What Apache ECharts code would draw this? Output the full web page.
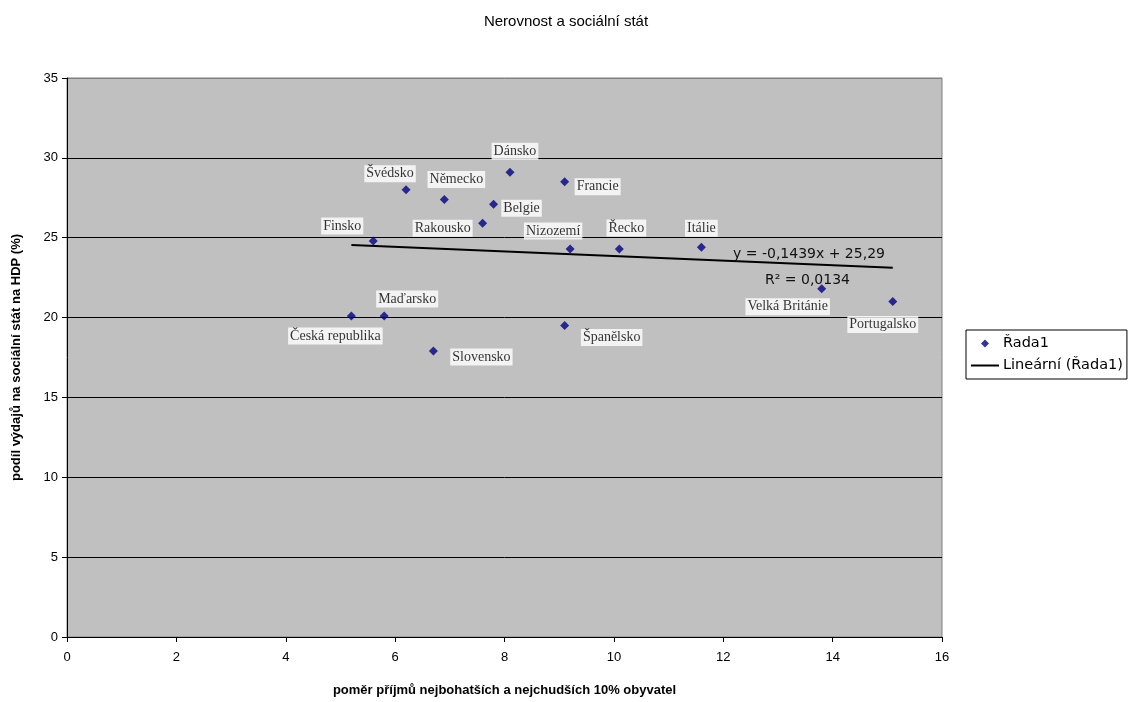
<!DOCTYPE html>
<html><head><meta charset="utf-8">
<script src="https://cdn.jsdelivr.net/npm/echarts@6/dist/echarts.min.js"></script>
<style>html,body{margin:0;padding:0;background:#fff}#c{width:1132px;height:702px}</style>
</head><body><div id="c"></div>
<script>
// ---- data ----
const countries = ['Česká republika','Maďarsko','Finsko','Švédsko','Německo','Dánsko','Belgie','Rakousko','Nizozemí','Francie','Slovensko','Španělsko','Řecko','Itálie','Velká Británie','Portugalsko'];
const incomeRatio = [5.2, 5.8, 5.6, 6.2, 6.9, 8.1, 7.8, 7.6, 9.2, 9.1, 6.7, 9.1, 10.1, 11.6, 13.8, 15.1];
const socialShare = [20.1, 20.1, 24.8, 28.0, 27.4, 29.1, 27.1, 25.9, 24.3, 28.5, 17.9, 19.5, 24.3, 24.4, 21.8, 21.0];
const xTicks = [0, 2, 4, 6, 8, 10, 12, 14, 16];
const yTicks = [0, 5, 10, 15, 20, 25, 30, 35];
const trendSlope = -0.1439;
const trendIntercept = 25.29;
const trendLabels = ['y = -0,1439x + 25,29', 'R² = 0,0134'];
const seriesName = 'Řada1';
const trendName = 'Lineární (Řada1)';
const chartTitle = 'Nerovnost a sociální stát';
const xName = 'poměr příjmů nejbohatších a nejchudších 10% obyvatel';
const yName = 'podíl výdajů na sociální stát na HDP (%)';

// ---- layout (label placement, px offsets from marker) ----
const labelOffset = {
  'Česká republika': [-16, 20], 'Maďarsko': [23, -17], 'Finsko': [-31, -15], 'Švédsko': [-16, -16],
  'Německo': [12, -20], 'Dánsko': [5, -21], 'Belgie': [28, 4], 'Rakousko': [-40, 5],
  'Nizozemí': [-17, -18], 'Francie': [33, 5], 'Slovensko': [48, 6], 'Španělsko': [47, 12],
  'Řecko': [7, -21], 'Itálie': [0, -19], 'Velká Británie': [-34, 18], 'Portugalsko': [-10, 23]
};

const pts = countries.map((c, i) => ({
  name: c, value: [incomeRatio[i], socialShare[i]],
  label: { offset: labelOffset[c] || [0, -15] }
}));
const xMinD = Math.min(...incomeRatio), xMaxD = Math.max(...incomeRatio);
const trendData = [[xMinD, trendSlope * xMinD + trendIntercept], [xMaxD, trendSlope * xMaxD + trendIntercept]];

const sans = 'Liberation Sans, Arial, sans-serif';
const wide = 'DejaVu Sans, sans-serif';
const serif = 'Liberation Serif, Times New Roman, serif';
const chart = echarts.init(document.getElementById('c'), null, { renderer: 'canvas' });
chart.setOption({
  backgroundColor: '#fff',
  animation: false,
  title: { text: chartTitle, left: 'center', top: 9, textStyle: { fontFamily: sans, fontSize: 15, fontWeight: 'normal', color: '#000' } },
  legend: {
    orient: 'vertical', left: 966, top: 330, padding: [6, 4, 6, 5],
    borderColor: '#000', borderWidth: 1, backgroundColor: '#fff',
    itemWidth: 28, itemHeight: 8, itemGap: 7, symbolKeepAspect: true,
    textStyle: { fontFamily: wide, fontSize: 14.5, color: '#000', padding: [0, 0, 0, -1] },
    data: [
      { name: seriesName, icon: 'path://M0,-1L1,0L0,1L-1,0Z' },
      { name: trendName, icon: 'path://M0,0H28V2H0Z' }
    ]
  },
  grid: { left: 67, right: 190, top: 78, bottom: 64, show: true, backgroundColor: '#C0C0C0', borderColor: '#808080', borderWidth: 1 },
  xAxis: {
    type: 'value', min: xTicks[0], max: xTicks[xTicks.length - 1], interval: 2,
    name: xName, nameLocation: 'middle', nameGap: 47,
    nameTextStyle: { fontFamily: sans, fontSize: 13, fontWeight: 'bold', color: '#000' },
    axisLine: { show: true, onZero: false, lineStyle: { color: '#000', width: 1 } },
    axisTick: { show: true, inside: false, length: 5, lineStyle: { color: '#000' } },
    axisLabel: { fontFamily: sans, fontSize: 13, color: '#000', margin: 14 },
    splitLine: { show: false }
  },
  yAxis: {
    type: 'value', min: yTicks[0], max: yTicks[yTicks.length - 1], interval: 5,
    name: yName, nameLocation: 'middle', nameGap: 44,
    nameTextStyle: { fontFamily: sans, fontSize: 13, fontWeight: 'bold', color: '#000' },
    axisLine: { show: true, onZero: false, lineStyle: { color: '#000', width: 1 } },
    axisTick: { show: true, inside: false, length: 5, lineStyle: { color: '#000' } },
    axisLabel: { fontFamily: sans, fontSize: 13, color: '#000', margin: 9 },
    splitLine: { show: true, lineStyle: { color: ['#000', '#000', '#000', '#000', '#000', '#000', '#000', '#808080'], width: 1 } }
  },
  series: [
    {
      name: seriesName, type: 'scatter', symbol: 'diamond', symbolSize: 9,
      itemStyle: { color: '#000080' },
      label: {
        show: true, position: 'inside', formatter: '{b}',
        fontFamily: serif, fontSize: 14, color: '#000',
        backgroundColor: '#fff', padding: [2, 2, 1, 2]
      },
      data: pts, z: 3
    },
    {
      name: trendName, type: 'line', symbol: 'none', showSymbol: false,
      lineStyle: { color: '#000', width: 2 }, itemStyle: { color: '#000' },
      data: trendData, z: 2, silent: true
    }
  ],
  graphic: [
    { type: 'text', left: 733, top: 247, z: 10, style: { text: trendLabels[0], font: '14px ' + wide, fill: '#111' } },
    { type: 'text', left: 765, top: 273, z: 10, style: { text: trendLabels[1], font: '14px ' + wide, fill: '#111' } }
  ]
});
</script></body></html>
